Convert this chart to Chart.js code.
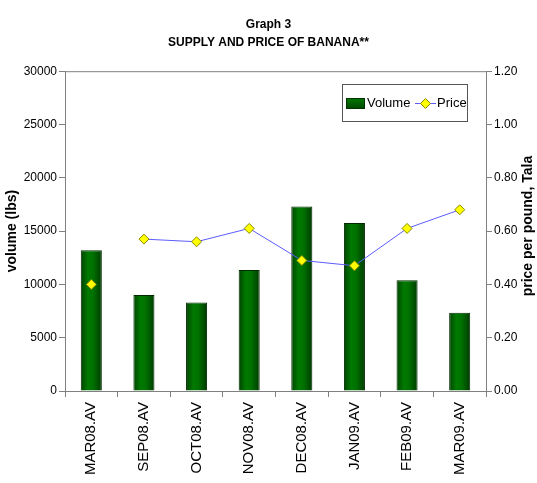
<!DOCTYPE html>
<html>
<head>
<meta charset="utf-8">
<script src="https://cdn.jsdelivr.net/npm/chart.js@4/dist/chart.umd.min.js"></script>
<style>
html,body{margin:0;padding:0;background:#fff;}
#wrap{width:537px;height:483px;}
</style>
</head>
<body>
<div id="wrap"><canvas id="c" width="537" height="483"></canvas></div>
<script>
const categories = ['MAR08.AV','SEP08.AV','OCT08.AV','NOV08.AV','DEC08.AV','JAN09.AV','FEB09.AV','MAR09.AV'];
const volume = [13200, 9000, 8300, 11350, 17300, 15750, 10400, 7330];
const price = [0.40, 0.57, 0.56, 0.61, 0.49, 0.47, 0.61, 0.68];
const titleLines = ['Graph 3', 'SUPPLY AND PRICE OF BANANA**'];
const leftTitle = 'volume (lbs)';
const rightTitle = 'price per pound, Tala';

const FONT = "'Liberation Sans', Arial, sans-serif";
const GREY = '#808080';
const BAR_PCT = 0.4;

function barFill(c) {
  const chart = c.chart;
  const xs = chart.scales.x;
  const a = chart.chartArea;
  if (!xs || !a || c.dataIndex === undefined) return '#006a00';
  const cx = xs.getPixelForValue(c.dataIndex);
  const w = BAR_PCT * (a.right - a.left) / categories.length;
  if (!isFinite(cx) || !isFinite(w)) return '#006a00';
  const g = chart.ctx.createLinearGradient(cx - w / 2, 0, cx + w / 2, 0);
  g.addColorStop(0, '#004400');
  g.addColorStop(0.35, '#007a00');
  g.addColorStop(0.6, '#007000');
  g.addColorStop(1, '#003a00');
  return g;
}

const frame = {
  id: 'frame',
  afterDraw(chart) {
    const {ctx, chartArea: a} = chart;
    ctx.save();
    ctx.strokeStyle = GREY;
    ctx.lineWidth = 1;
    ctx.beginPath();
    ctx.moveTo(a.left, a.top + 0.5);
    ctx.lineTo(a.right, a.top + 0.5);
    ctx.stroke();

    // right axis title, reading bottom-to-top
    ctx.save();
    ctx.translate(528, (a.top + a.bottom) / 2 - 5);
    ctx.rotate(-Math.PI / 2);
    ctx.font = 'bold 14px ' + FONT;
    ctx.fillStyle = '#000';
    ctx.textAlign = 'center';
    ctx.textBaseline = 'middle';
    ctx.fillText(rightTitle, 0, 0);
    ctx.restore();

    // legend box
    const bars = chart.data.datasets.find(d => d.type === 'bar');
    const line = chart.data.datasets.find(d => d.type === 'line');
    const x = 342, y = 84, w = 125, h = 37;
    ctx.fillStyle = '#fff';
    ctx.fillRect(x, y, w, h);
    ctx.strokeStyle = '#555';
    ctx.strokeRect(x + 0.5, y + 0.5, w, h);
    const g = ctx.createLinearGradient(0, 98, 0, 109);
    g.addColorStop(0, '#007a00'); g.addColorStop(1, '#004400');
    ctx.fillStyle = g;
    ctx.fillRect(346, 98, 19, 11);
    ctx.strokeStyle = '#003300';
    ctx.strokeRect(346.5, 98.5, 18, 10);
    ctx.font = '13px ' + FONT;
    ctx.fillStyle = '#000';
    ctx.textBaseline = 'middle';
    ctx.fillText(bars.label, 367, 103.5);
    ctx.strokeStyle = line.borderColor;
    ctx.beginPath();
    ctx.moveTo(415, 103.5); ctx.lineTo(436, 103.5); ctx.stroke();
    ctx.beginPath();
    ctx.moveTo(425.5, 98.5); ctx.lineTo(430.5, 103.5); ctx.lineTo(425.5, 108.5); ctx.lineTo(420.5, 103.5); ctx.closePath();
    ctx.fillStyle = line.pointBackgroundColor;
    ctx.fill();
    ctx.strokeStyle = line.pointBorderColor;
    ctx.stroke();
    ctx.fillStyle = '#000';
    ctx.fillText(line.label, 437, 103.5);
    ctx.restore();
  }
};

new Chart(document.getElementById('c'), {
  data: {
    labels: categories,
    datasets: [
      {
        type: 'line',
        label: 'Price',
        data: price,
        yAxisID: 'y1',
        borderColor: '#5c5cff',
        borderWidth: 1,
        pointStyle: 'rectRot',
        pointRadius: 5,
        pointBackgroundColor: '#ffff00',
        pointBorderColor: '#8a8a00',
        pointBorderWidth: 1,
        segment: {
          borderColor: c => c.p0DataIndex === 0 ? 'rgba(0,0,0,0)' : undefined
        },
        order: 0
      },
      {
        type: 'bar',
        label: 'Volume',
        data: volume,
        yAxisID: 'y',
        backgroundColor: barFill,
        borderColor: '#002a00',
        borderWidth: 1,
        barPercentage: BAR_PCT,
        categoryPercentage: 1.0,
        order: 1
      }
    ]
  },
  options: {
    responsive: false,
    animation: false,
    layout: { padding: { left: 0, right: 0, top: 0, bottom: 0 } },
    plugins: {
      legend: { display: false },
      tooltip: { enabled: false },
      title: {
        display: true,
        text: titleLines,
        color: '#000',
        font: { family: FONT, size: 12, weight: 'bold', lineHeight: 1.55 },
        padding: { top: 15, bottom: 19 }
      }
    },
    scales: {
      x: {
        offset: true,
        grid: { display: true, drawOnChartArea: false, drawTicks: true, tickLength: 6, offset: true, color: GREY },
        border: { color: GREY },
        ticks: { minRotation: 90, maxRotation: 90, color: '#000', font: { family: FONT, size: 15 }, padding: 5 },
        afterFit: s => { s.height = 92; }
      },
      y: {
        position: 'left',
        min: 0, max: 30000,
        ticks: { stepSize: 5000, color: '#000', font: { family: FONT, size: 12 }, padding: 2, callback: v => String(v) },
        grid: { display: true, drawOnChartArea: false, drawTicks: true, tickLength: 6, color: GREY },
        border: { color: GREY },
        title: { display: true, text: leftTitle, color: '#000', font: { family: FONT, size: 14, weight: 'bold' }, padding: { top: 4, bottom: 0 } },
        afterFit: s => { s.width = 65; }
      },
      y1: {
        position: 'right',
        min: 0, max: 1.2,
        ticks: { stepSize: 0.2, color: '#000', font: { family: FONT, size: 12 }, padding: 2, callback: v => Number(v).toFixed(2) },
        grid: { display: true, drawOnChartArea: false, drawTicks: true, tickLength: 6, color: GREY },
        border: { color: GREY },
        afterFit: s => { s.width = 51; }
      }
    }
  },
  plugins: [frame]
});
</script>
</body>
</html>
